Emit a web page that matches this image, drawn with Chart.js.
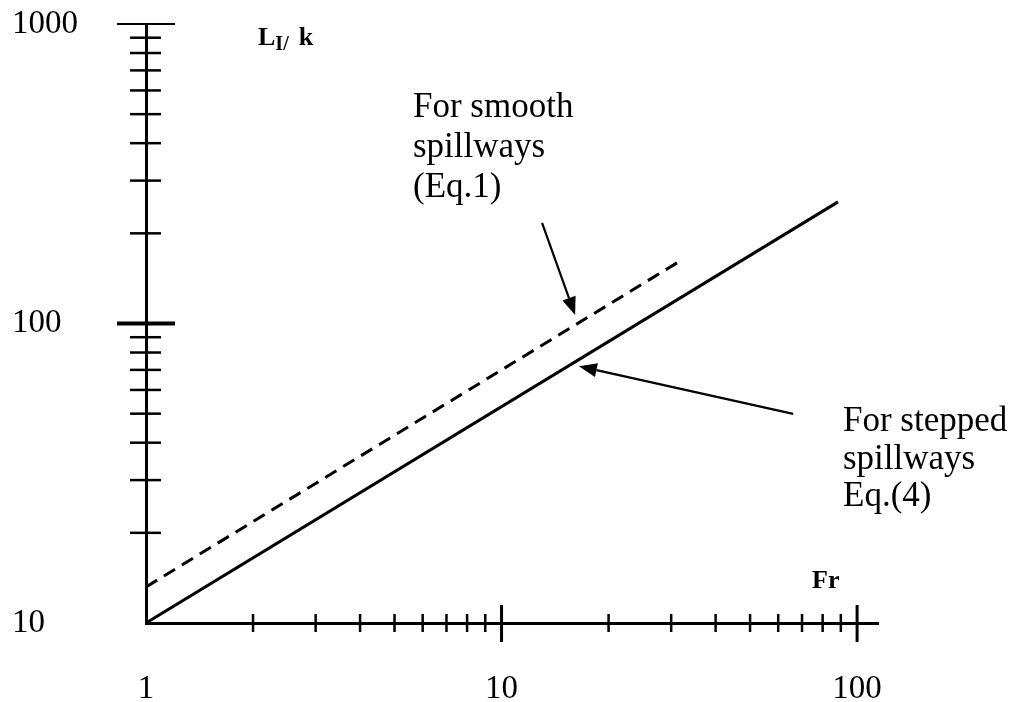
<!DOCTYPE html>
<html><head><meta charset="utf-8">
<script src="https://cdn.jsdelivr.net/npm/chart.js@4/dist/chart.umd.min.js"></script>
<style>html,body{margin:0;padding:0;background:#fff}#wrap{width:1014px;height:702px;position:relative}</style>
</head><body><div id="wrap"><canvas id="c" width="1014" height="702"></canvas></div>
<script>
// ---- data ----
const xTickValues = [1,2,3,4,5,6,7,8,9,10,20,30,40,50,60,70,80,90,100];
const yTickValues = [10,20,30,40,50,60,70,80,90,100,200,300,400,500,600,700,800,900,1000];
const xTickLabels = ['1','10','100'];
const yTickLabels = ['10','100','1000'];
const steppedFr = [1, 88.4];
const steppedL  = [10, 254.7];
const smoothFr  = [1, 32.4];
const smoothL   = [13.2, 164];
const smoothText  = ['For smooth','spillways','(Eq.1)'];
const steppedText = ['For stepped','spillways','Eq.(4)'];
const xTitle = 'Fr';
const yTitleMain = 'L', yTitleSub = 'I/', yTitleEnd = 'k';
// arrows in data coordinates: [tailFr, tailL, tipFr, tipL]
const smoothArrow  = [13.0, 216.6, 16.1, 106.7];
const steppedArrow = [66.1, 49.9, 16.5, 72.0];

const SERIF = "'Liberation Serif','Times New Roman',serif";

const tickMarks = {
  id: 'tickMarks',
  afterDraw(chart) {
    const ctx = chart.ctx, xs = chart.scales.x, ys = chart.scales.y;
    const ax = xs.getPixelForValue(1), ay = ys.getPixelForValue(10);
    ctx.save();
    ctx.strokeStyle = '#000';
    xTickValues.forEach(v => {
      const p = xs.getPixelForValue(v);
      const major = xTickLabels.includes(String(v));
      if (v === 1) return;
      ctx.lineWidth = major ? 3 : 2.5;
      ctx.beginPath();
      ctx.moveTo(p, ay - (major ? 18 : 9));
      ctx.lineTo(p, ay + (major ? 19 : 9));
      ctx.stroke();
    });
    yTickValues.forEach(v => {
      const p = ys.getPixelForValue(v);
      if (v === 10) return;
      const major = yTickLabels.includes(String(v));
      ctx.lineWidth = v === 1000 ? 2 : (major ? 4 : 2.5);
      ctx.beginPath();
      ctx.moveTo(ax - (major ? 29 : 16), p);
      ctx.lineTo(ax + (major ? 29 : 15), p);
      ctx.stroke();
    });
    ctx.restore();
  }
};

const annotations = {
  id: 'annotations',
  afterDraw(chart) {
    const ctx = chart.ctx, xs = chart.scales.x, ys = chart.scales.y;
    ctx.save();
    ctx.fillStyle = '#000';
    ctx.strokeStyle = '#000';
    ctx.textBaseline = 'alphabetic';
    ctx.textAlign = 'left';
    ctx.font = '35px ' + SERIF;
    smoothText.forEach((t, i) => ctx.fillText(t, 413, 117 + i * 40));
    steppedText.forEach((t, i) => ctx.fillText(t, 843, 431 + i * 37.5));
    ctx.font = 'bold 26px ' + SERIF;
    ctx.fillText(xTitle, 812, 588);
    // y title L_I/k
    let x = 258;
    ctx.font = 'bold 26px ' + SERIF;
    ctx.fillText(yTitleMain, x, 45); x += ctx.measureText(yTitleMain).width;
    ctx.font = 'bold 20px ' + SERIF;
    ctx.fillText(yTitleSub, x, 50); x += ctx.measureText(yTitleSub).width + 10;
    ctx.font = 'bold 26px ' + SERIF;
    ctx.fillText(yTitleEnd, x, 45);
    // arrows
    [smoothArrow, steppedArrow].forEach(a => {
      const x0 = xs.getPixelForValue(a[0]), y0 = ys.getPixelForValue(a[1]);
      const x1 = xs.getPixelForValue(a[2]), y1 = ys.getPixelForValue(a[3]);
      const ang = Math.atan2(y1 - y0, x1 - x0);
      const hl = 18, hw = 7;
      const bx = x1 - hl * Math.cos(ang), by = y1 - hl * Math.sin(ang);
      ctx.lineWidth = 2.2;
      ctx.beginPath(); ctx.moveTo(x0, y0); ctx.lineTo(bx, by); ctx.stroke();
      ctx.beginPath();
      ctx.moveTo(x1, y1);
      ctx.lineTo(bx + hw * Math.sin(ang), by - hw * Math.cos(ang));
      ctx.lineTo(bx - hw * Math.sin(ang), by + hw * Math.cos(ang));
      ctx.closePath(); ctx.fill();
    });
    ctx.restore();
  }
};

new Chart(document.getElementById('c'), {
  type: 'scatter',
  data: {
    datasets: [
      { label: 'stepped', data: steppedFr.map((v, i) => ({x: v, y: steppedL[i]})),
        showLine: true, pointRadius: 0, borderColor: '#000', borderWidth: 3 },
      { label: 'smooth', data: smoothFr.map((v, i) => ({x: v, y: smoothL[i]})),
        showLine: true, pointRadius: 0, borderColor: '#000', borderWidth: 3, borderDash: [13, 8] }
    ]
  },
  options: {
    responsive: false,
    animation: false,
    devicePixelRatio: 1,
    layout: { padding: { left: 12, top: 24, right: 136, bottom: 0 } },
    plugins: { legend: { display: false }, tooltip: { enabled: false } },
    scales: {
      x: {
        type: 'logarithmic', min: 1, max: 114.5, position: 'bottom',
        grid: { display: false, drawTicks: false },
        border: { display: true, color: '#000', width: 3 },
        afterBuildTicks: s => { s.ticks = xTickValues.map(v => ({ value: v })); },
        afterFit: s => { s.height = 79; },
        ticks: {
          autoSkip: false, maxRotation: 0, padding: 47, color: '#000',
          font: { family: SERIF, size: 33 },
          callback: v => xTickLabels.includes(String(v)) ? String(v) : ''
        }
      },
      y: {
        type: 'logarithmic', min: 10, max: 1000, position: 'left',
        grid: { display: false, drawTicks: false },
        border: { display: true, color: '#000', width: 3 },
        afterBuildTicks: s => { s.ticks = yTickValues.map(v => ({ value: v })); },
        afterFit: s => { s.width = 134; },
        ticks: {
          autoSkip: false, crossAlign: 'far', color: '#000',
          font: { family: SERIF, size: 33 },
          callback: v => yTickLabels.includes(String(v)) ? String(v) : ''
        }
      }
    }
  },
  plugins: [tickMarks, annotations]
});
</script>
</body></html>
